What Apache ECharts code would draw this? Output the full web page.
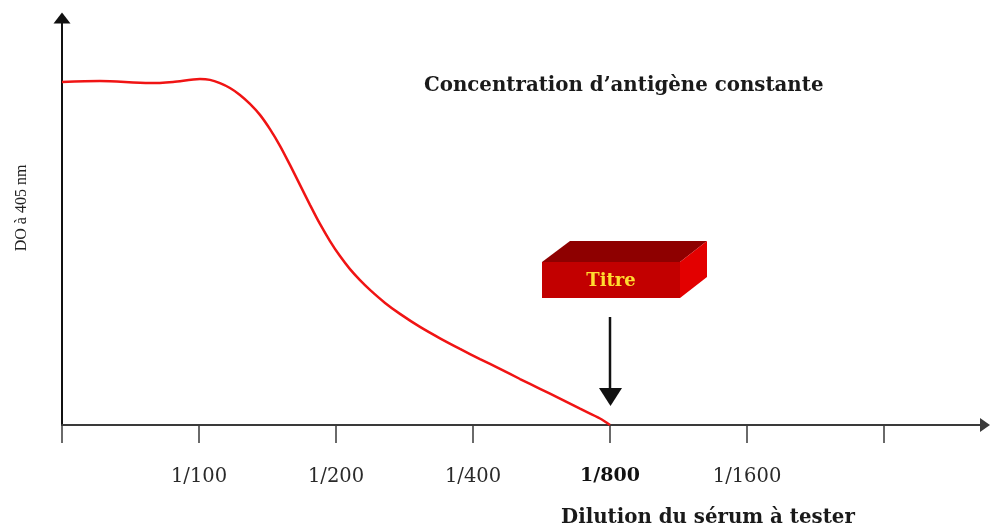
<!DOCTYPE html>
<html>
<head>
<meta charset="utf-8">
<script src="https://cdn.jsdelivr.net/npm/echarts@6/dist/echarts.min.js"></script>
<style>html,body{margin:0;padding:0;background:#fff}#c{width:991px;height:524px}</style>
</head>
<body>
<div id="c"></div>
<script>
// Data (x = position along dilution axis: 1 -> 1/100, 2 -> 1/200, ...; y = OD, arbitrary units)
const dilutionPos = [0, 0.277, 0.642, 0.810, 1.007, 1.080, 1.153, 1.226, 1.299, 1.372, 1.445, 1.518, 1.591, 1.664, 1.737, 1.810, 1.883, 1.956, 2.029, 2.102, 2.175, 2.248, 2.358, 2.467, 2.613, 2.759, 2.905, 3.051, 3.197, 3.343, 3.489, 3.635, 3.781, 3.927, 4.0];
const odValues    = [84.3, 84.5, 84.0, 84.3, 85.0, 84.8, 84.0, 82.8, 81.1, 78.9, 76.2, 72.7, 68.6, 63.9, 59.0, 54.1, 49.4, 45.2, 41.5, 38.3, 35.6, 33.2, 30.0, 27.3, 24.1, 21.3, 18.7, 16.2, 13.8, 11.3, 8.9, 6.5, 4.0, 1.6, 0];
const tickPositions = [0, 1, 2, 3, 4, 5, 6];
const labelPositions = [1, 2, 3, 4, 5];
const tickLabels = ['1/100', '1/200', '1/400', '1/800', '1/1600'];
const titerIndex = 3; // 1/800
const chartTitle = 'Concentration d\u2019antigène constante';
const xName = 'Dilution du sérum à tester';
const yName = 'DO à 405 nm';
const titerText = 'Titre';

const chart = echarts.init(document.getElementById('c'), null, {renderer: 'canvas'});
const pts = dilutionPos.map((x, i) => [x, odValues[i]]);

const option = {
  animation: false,
  backgroundColor: '#ffffff',
  title: [
    {text: chartTitle, left: 419, top: 71,
     textStyle: {fontFamily: 'DejaVu Serif', fontWeight: 'bold', fontSize: 19.8, color: '#1a1a1a'}},
    {text: xName, left: 556, top: 503,
     textStyle: {fontFamily: 'DejaVu Serif', fontWeight: 'bold', fontSize: 19.8, color: '#1a1a1a'}}
  ],
  grid: {left: 62, right: 6, top: 18, bottom: 99, containLabel: false},
  xAxis: {
    type: 'value', min: 0, max: 6.737,
    axisLine: {show: true, symbol: ['none', 'triangle'], symbolSize: [14, 10],
               lineStyle: {color: '#3a3a3a', width: 2}},
    axisTick: {show: true, customValues: tickPositions, length: 18, inside: false,
               lineStyle: {color: '#3a3a3a', width: 1.5}},
    axisLabel: {show: true, customValues: labelPositions, margin: 42,
      fontFamily: 'DejaVu Serif', fontSize: 19.5, color: '#2a2a2a',
      formatter: function (v) {
        const i = Math.round(v) - 1;
        const t = tickLabels[i];
        return i === titerIndex ? '{b|' + t + '}' : t;
      },
      rich: {b: {fontFamily: 'DejaVu Serif', fontWeight: 'bold', fontSize: 19, color: '#111'}}
    },
    splitLine: {show: false}
  },
  yAxis: {
    type: 'value', min: 0, max: 100,
    axisLine: {show: true, symbol: ['none', 'triangle'], symbolSize: [17, 11],
               lineStyle: {color: '#111', width: 2}},
    axisTick: {show: false},
    axisLabel: {show: false},
    splitLine: {show: false}
  },
  series: [{
    type: 'line', data: pts, smooth: 0.3, showSymbol: false,
    lineStyle: {color: '#f01414', width: 2.5}
  }],
  graphic: [
    {type: 'text', x: 22, y: 208, rotation: Math.PI / 2,
     style: {text: yName, fill: '#222', font: '16px "Liberation Serif"',
             align: 'center', verticalAlign: 'middle'}},
    {type: 'polygon', shape: {points: [[542, 262], [570, 241], [707, 241], [680, 262]]},
     style: {fill: '#8e0000'}},
    {type: 'polygon', shape: {points: [[680, 262], [707, 241], [707, 277], [680, 298]]},
     style: {fill: '#e30000'}},
    {type: 'rect', shape: {x: 542, y: 262, width: 138, height: 36},
     style: {fill: '#c20000'}},
    {type: 'text', x: 611, y: 281,
     style: {text: titerText, fill: '#ffdc30', font: 'bold 18px "DejaVu Serif"',
             align: 'center', verticalAlign: 'middle'}},
    {type: 'line', shape: {x1: 610, y1: 317, x2: 610, y2: 390},
     style: {stroke: '#111', lineWidth: 2.5}},
    {type: 'polygon', shape: {points: [[599, 388], [622, 388], [610.5, 406]]},
     style: {fill: '#111'}}
  ]
};
chart.setOption(option);
</script>
</body>
</html>
